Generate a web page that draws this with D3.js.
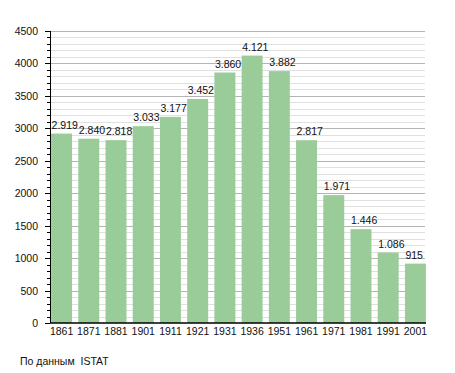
<!DOCTYPE html>
<html>
<head>
<meta charset="utf-8">
<script src="https://cdn.jsdelivr.net/npm/d3@7"></script>
<style>
  body { margin: 0; background: #fff; }
  text { font-family: "Liberation Sans", Arial, sans-serif; }
</style>
</head>
<body>
<div id="chart"></div>
<script>
// Data
const years = ['1861', '1871', '1881', '1901', '1911', '1921', '1931', '1936', '1951', '1961', '1971', '1981', '1991', '2001'];
const population = [2919, 2840, 2818, 3033, 3177, 3452, 3860, 4121, 3882, 2817, 1971, 1446, 1086, 915];
const yTicks = [0, 500, 1000, 1500, 2000, 2500, 3000, 3500, 4000, 4500];
const sourceNote = 'По данным  ISTAT';

const W = 455, H = 373;
const plotLeft = 50, plotRight = 427, plotTop = 31, plotBottom = 323;
const fontSize = 10.5;

const svg = d3.select('#chart')
    .append('svg')
    .attr('width', W)
    .attr('height', H);

// scales
const x = d3.scaleBand()
    .domain(years)
    .range([plotLeft, plotRight])
    .paddingInner(0.23)
    .paddingOuter(0.04);

const y = d3.scaleLinear()
    .domain([0, 4500])
    .range([plotBottom, plotTop]);

// minor grid every 100
const minor = d3.range(0, 4501, 100).filter(v => v % 500 !== 0);
svg.append('g')
    .selectAll('line')
    .data(minor).enter()
    .append('line')
    .attr('x1', plotLeft).attr('x2', plotRight - 2)
    .attr('y1', d => Math.round(y(d)) + 0.5)
    .attr('y2', d => Math.round(y(d)) + 0.5)
    .attr('stroke', '#e0e0e0');

// major grid
svg.append('g')
    .selectAll('line')
    .data(yTicks.filter(v => v > 0)).enter()
    .append('line')
    .attr('x1', plotLeft).attr('x2', plotRight - 2)
    .attr('y1', d => Math.round(y(d)) + 0.5)
    .attr('y2', d => Math.round(y(d)) + 0.5)
    .attr('stroke', '#b4b4b4');

// bars
svg.append('g')
    .selectAll('rect')
    .data(population).enter()
    .append('rect')
    .attr('x', (d, i) => x(years[i]))
    .attr('y', d => y(d))
    .attr('width', x.bandwidth())
    .attr('height', d => plotBottom - y(d))
    .attr('fill', '#99cc99');

// value labels (left-aligned at bar start, like the original)
const fmt = d3.formatLocale({decimal: ',', thousands: '.', grouping: [3], currency: ['', '']}).format(',d');
svg.append('g')
    .selectAll('text')
    .data(population).enter()
    .append('text')
    .attr('x', (d, i) => x(years[i]) + 0.5)
    .attr('y', d => y(d) - 5)
    .attr('font-size', fontSize)
    .attr('fill', '#111')
    .text(d => fmt(d));

// y axis with minor ticks
const yAxis = svg.append('g')
    .attr('transform', 'translate(' + plotLeft + ',0)');
yAxis.append('line')
    .attr('x1', 0.5).attr('x2', 0.5)
    .attr('y1', plotTop).attr('y2', plotBottom)
    .attr('stroke', '#000');
yAxis.selectAll('.minor')
    .data(minor).enter()
    .append('line')
    .attr('x1', -3).attr('x2', 0)
    .attr('y1', d => Math.round(y(d)) + 0.5)
    .attr('y2', d => Math.round(y(d)) + 0.5)
    .attr('stroke', '#000');
yAxis.selectAll('.major')
    .data(yTicks).enter()
    .append('line')
    .attr('x1', -5).attr('x2', 0)
    .attr('y1', d => Math.round(y(d)) + 0.5)
    .attr('y2', d => Math.round(y(d)) + 0.5)
    .attr('stroke', '#000');
yAxis.selectAll('text')
    .data(yTicks).enter()
    .append('text')
    .attr('x', -12)
    .attr('y', d => y(d) + 4)
    .attr('text-anchor', 'end')
    .attr('font-size', fontSize)
    .attr('fill', '#111')
    .text(d => d);

// x axis
const xAxis = d3.axisBottom(x).tickSize(0).tickPadding(5);
svg.append('g')
    .attr('transform', 'translate(0,' + plotBottom + ')')
    .call(xAxis)
    .call(g => g.select('.domain').attr('stroke', '#000').attr('stroke-width', 1.5).attr('d', 'M' + plotLeft + ',0H' + (plotRight - 1)))
    .call(g => g.selectAll('text').attr('font-size', fontSize).attr('fill', '#111')
        .style('font-family', '"Liberation Sans", Arial, sans-serif'));

// source note
svg.append('text')
    .attr('x', 20)
    .attr('y', 365)
    .attr('font-size', fontSize)
    .attr('fill', '#111')
    .style('white-space', 'pre')
    .text(sourceNote);
</script>
</body>
</html>
